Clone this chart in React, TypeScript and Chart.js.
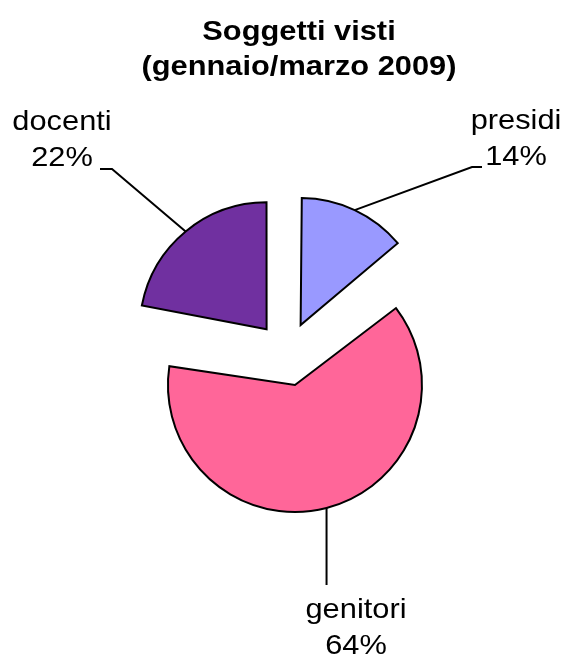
import React, { useEffect, useRef } from 'react';
import { Chart, registerables } from 'chart.js';

Chart.register(...registerables);

// ---- data ----
const titleLines = ['Soggetti visti', '(gennaio/marzo 2009)'];
const categories = ['presidi', 'genitori', 'docenti'];
const percentages = [14, 64, 22];
const sliceColors = ['#9999FF', '#FF6699', '#7030A0'];

// ---- layout / style ----
const W = 566;
const H = 657;
const RADIUS = 127;
const EXPLODE = 128; // Chart.js translates an arc by offset / 4 => 32px
const FONT = '"Liberation Sans", Arial, sans-serif';
const STRETCH = 1.1;

const TITLE_LAYOUT = { x: 299, baselines: [40, 75] };
const LABEL_LAYOUT = [
  { textX: 516, baselines: [129, 165], elbow: [472, 167], end: [482, 167] },
  { textX: 356, baselines: [618, 654], elbowY: 585 },
  { textX: 62, baselines: [130, 166], elbow: [112, 169], end: [100, 169] },
];

function drawStretched(ctx: CanvasRenderingContext2D, text: string, x: number, y: number) {
  ctx.save();
  ctx.translate(x, y);
  ctx.scale(STRETCH, 1);
  ctx.textAlign = 'center';
  ctx.textBaseline = 'alphabetic';
  ctx.fillText(text, 0, 0);
  ctx.restore();
}

const equalRadiusPlugin = {
  id: 'equalRadius',
  afterDatasetUpdate(chart: any, args: any) {
    const meta = chart.getDatasetMeta(args.index);
    meta.data.forEach((arc: any) => {
      const shift = ((arc.options && arc.options.offset) || 0) / 4;
      const fix = 1 - Math.sin(Math.min(Math.PI, arc.circumference || 0));
      arc.outerRadius = RADIUS - shift * fix;
    });
  },
};

const labelsPlugin = {
  id: 'sliceLabels',
  afterDraw(chart: any) {
    const ctx: CanvasRenderingContext2D = chart.ctx;
    ctx.save();
    ctx.fillStyle = '#000';
    ctx.font = `bold 28px ${FONT}`;
    titleLines.forEach((t, i) => drawStretched(ctx, t, TITLE_LAYOUT.x, TITLE_LAYOUT.baselines[i]));

    const meta = chart.getDatasetMeta(0);
    ctx.strokeStyle = '#000';
    ctx.lineWidth = 2;
    ctx.lineJoin = 'miter';
    meta.data.forEach((arc: any, i: number) => {
      const layout: any = LABEL_LAYOUT[i];
      const mid = (arc.startAngle + arc.endAngle) / 2;
      const shift = ((arc.options && arc.options.offset) || 0) / 4;
      const cx = arc.x + Math.cos(mid) * shift;
      const cy = arc.y + Math.sin(mid) * shift;
      const ax = cx + Math.cos(mid) * RADIUS;
      const ay = cy + Math.sin(mid) * RADIUS;
      ctx.beginPath();
      ctx.moveTo(ax, ay);
      if (layout.elbow) {
        ctx.lineTo(layout.elbow[0], layout.elbow[1]);
        ctx.lineTo(layout.end[0], layout.end[1]);
      } else {
        ctx.lineTo(ax, layout.elbowY);
      }
      ctx.stroke();

      ctx.font = `28px ${FONT}`;
      drawStretched(ctx, categories[i], layout.textX, layout.baselines[0]);
      drawStretched(ctx, `${percentages[i]}%`, layout.textX, layout.baselines[1]);
    });
    ctx.restore();
  },
};

export default function App() {
  const canvasRef = useRef<HTMLCanvasElement | null>(null);

  useEffect(() => {
    const canvas = canvasRef.current;
    if (!canvas) return;
    const chart = new Chart(canvas, {
      type: 'pie',
      data: {
        labels: categories,
        datasets: [
          {
            data: percentages,
            backgroundColor: sliceColors,
            borderColor: '#000',
            borderWidth: 2,
            borderJoinStyle: 'miter',
            offset: EXPLODE,
            hoverOffset: EXPLODE,
          } as any,
        ],
      },
      options: {
        responsive: false,
        animation: false,
        events: [],
        radius: RADIUS,
        layout: { padding: { left: 8, right: 0, top: 51, bottom: 0 } },
        plugins: {
          legend: { display: false },
          title: { display: false },
          tooltip: { enabled: false },
        },
      } as any,
      plugins: [equalRadiusPlugin, labelsPlugin],
    });
    return () => chart.destroy();
  }, []);

  return (
    <div style={{ position: 'absolute', left: 0, top: 0, width: W, height: H, background: '#fff' }}>
      <canvas ref={canvasRef} width={W} height={H} style={{ width: W, height: H, display: 'block' }} />
    </div>
  );
}
